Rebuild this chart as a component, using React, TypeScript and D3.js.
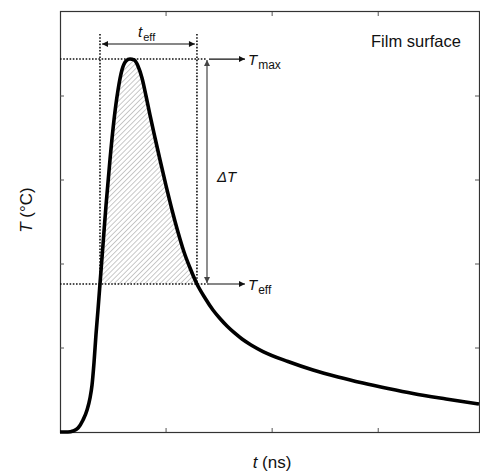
import * as React from 'react';
import { useEffect, useRef } from 'react';
import * as d3 from 'd3';

// surface temperature pulse (arbitrary units)
const timeNs = [
  0, 0.075, 0.123, 0.17, 0.217, 0.255, 0.283, 0.302, 0.321, 0.339, 0.358, 0.377,
  0.405, 0.434, 0.471, 0.509, 0.547, 0.584, 0.622, 0.66, 0.698, 0.735, 0.773,
  0.811, 0.848, 0.896, 0.943, 1.0, 1.056, 1.112, 1.169, 1.226, 1.291, 1.367,
  1.442, 1.508, 1.574, 1.64, 1.716, 1.801, 1.914, 2.149, 2.385, 2.621, 2.856,
  3.092, 3.328, 3.639, 3.95
];
const tempC = [
  0, 0, 0.012, 0.048, 0.143, 0.262, 0.405, 0.56, 0.833, 1.155, 1.452, 1.762,
  2.226, 2.702, 3.238, 3.714, 4.071, 4.31, 4.417, 4.44, 4.429, 4.357, 4.214,
  4.0, 3.774, 3.5, 3.238, 2.929, 2.643, 2.381, 2.143, 1.952, 1.762, 1.595,
  1.452, 1.351, 1.262, 1.185, 1.107, 1.036, 0.958, 0.839, 0.738, 0.655, 0.583,
  0.518, 0.458, 0.393, 0.333
];

const T_MAX = 4.44;
const T_EFF = 1.762;
const T_EFF_START = 0.377;
const T_EFF_END = 1.291;

const xTicks = [1, 2, 3];
const yTicks = [1, 2, 3, 4];

const FONT = '"Liberation Sans", Arial, Helvetica, sans-serif';

export default function App() {
  const ref = useRef<SVGSVGElement>(null);

  useEffect(() => {
    const svg = d3.select(ref.current);
    svg.selectAll('*').remove();

    const left = 60, right = 479, top = 12, bottom = 432;
    const data = timeNs.map((t, i) => ({ t, T: tempC[i] }));

    const x = d3.scaleLinear().domain([0, 3.95]).range([left, right]);
    const y = d3.scaleLinear().domain([0, 5]).range([bottom, top]);

    const defs = svg.append('defs');

    // hatch for the area above T_eff
    defs.append('pattern')
      .attr('id', 'hatch')
      .attr('patternUnits', 'userSpaceOnUse')
      .attr('width', 3.6)
      .attr('height', 3.6)
      .attr('patternTransform', 'rotate(45)')
      .append('line')
      .attr('x1', 0).attr('y1', 0)
      .attr('x2', 0).attr('y2', 3.6)
      .attr('stroke', '#777')
      .attr('stroke-width', 0.8);

    defs.append('clipPath')
      .attr('id', 'aboveEff')
      .append('rect')
      .attr('x', x(T_EFF_START))
      .attr('y', top)
      .attr('width', x(T_EFF_END) - x(T_EFF_START))
      .attr('height', y(T_EFF) - top);

    const addMarker = (id: string, color: string, orient: string) => {
      defs.append('marker')
        .attr('id', id)
        .attr('viewBox', '0 0 10 10')
        .attr('refX', 10)
        .attr('refY', 5)
        .attr('markerUnits', 'userSpaceOnUse')
        .attr('markerWidth', 9)
        .attr('markerHeight', 6)
        .attr('orient', orient)
        .append('path')
        .attr('d', 'M0,0 L10,5 L0,10 Z')
        .attr('fill', color);
    };
    addMarker('arrowEnd', '#111', 'auto');
    addMarker('arrowStart', '#111', 'auto-start-reverse');
    addMarker('arrowEndG', '#444', 'auto');
    addMarker('arrowStartG', '#444', 'auto-start-reverse');

    // hatched area
    const area = d3.area<{ t: number; T: number }>()
      .x(d => x(d.t))
      .y0(y(T_EFF))
      .y1(d => y(d.T))
      .curve(d3.curveMonotoneX);

    svg.append('path')
      .datum(data)
      .attr('d', area)
      .attr('fill', 'url(#hatch)')
      .attr('clip-path', 'url(#aboveEff)');

    // frame
    svg.append('rect')
      .attr('x', left + 0.5)
      .attr('y', top - 0.5)
      .attr('width', right - left)
      .attr('height', bottom - top + 1)
      .attr('fill', 'none')
      .attr('stroke', '#333')
      .attr('stroke-width', 1.2);

    // inward ticks on all sides
    const ticks = svg.append('g').attr('stroke', '#555').attr('stroke-width', 1);
    xTicks.forEach(v => {
      ticks.append('line').attr('x1', x(v)).attr('x2', x(v)).attr('y1', bottom).attr('y2', bottom - 4);
      ticks.append('line').attr('x1', x(v)).attr('x2', x(v)).attr('y1', top).attr('y2', top + 4);
    });
    yTicks.forEach(v => {
      ticks.append('line').attr('x1', left).attr('x2', left + 4).attr('y1', y(v)).attr('y2', y(v));
      ticks.append('line').attr('x1', right).attr('x2', right - 4).attr('y1', y(v)).attr('y2', y(v));
    });

    // dotted guides
    const dotted = svg.append('g')
      .attr('stroke', '#111')
      .attr('stroke-width', 1.6)
      .attr('stroke-dasharray', '1.6,1.6');
    dotted.append('line').attr('x1', x(T_EFF_START)).attr('x2', x(T_EFF_START)).attr('y1', 34).attr('y2', y(T_EFF));
    dotted.append('line').attr('x1', x(T_EFF_END)).attr('x2', x(T_EFF_END)).attr('y1', 34).attr('y2', y(T_EFF));
    dotted.append('line').attr('x1', left).attr('x2', 206).attr('y1', y(T_MAX)).attr('y2', y(T_MAX));
    dotted.append('line').attr('x1', left).attr('x2', 209).attr('y1', y(T_EFF)).attr('y2', y(T_EFF));

    // curve
    const line = d3.line<{ t: number; T: number }>()
      .x(d => x(d.t))
      .y(d => y(d.T))
      .curve(d3.curveMonotoneX);

    svg.append('path')
      .datum(data)
      .attr('d', line)
      .attr('fill', 'none')
      .attr('stroke', '#000')
      .attr('stroke-width', 3.6)
      .attr('stroke-linejoin', 'round');

    // arrows
    svg.append('line')
      .attr('x1', x(T_EFF_START) + 2).attr('x2', x(T_EFF_END) - 2)
      .attr('y1', 44).attr('y2', 44)
      .attr('stroke', '#111').attr('stroke-width', 1.2)
      .attr('marker-start', 'url(#arrowStart)')
      .attr('marker-end', 'url(#arrowEnd)');

    svg.append('line')
      .attr('x1', 207).attr('x2', 207)
      .attr('y1', y(T_MAX) + 1).attr('y2', y(T_EFF) - 1)
      .attr('stroke', '#444').attr('stroke-width', 1.2)
      .attr('marker-start', 'url(#arrowStartG)')
      .attr('marker-end', 'url(#arrowEndG)');

    [T_MAX, T_EFF].forEach(v => {
      svg.append('line')
        .attr('x1', 209).attr('x2', 245)
        .attr('y1', y(v)).attr('y2', y(v))
        .attr('stroke', '#111').attr('stroke-width', 1.2)
        .attr('marker-end', 'url(#arrowEnd)');
    });

    // labels
    const text = svg.append('g')
      .attr('font-family', FONT)
      .attr('fill', '#111');

    const subLabel = (xPos: number, yPos: number, main: string, sub: string, mainSize: number, subSize: number) => {
      const t = text.append('text').attr('x', xPos).attr('y', yPos).attr('font-size', mainSize);
      t.append('tspan').attr('font-style', 'italic').text(main);
      t.append('tspan').attr('font-size', subSize).attr('dy', 4).attr('dx', 1).text(sub);
    };
    subLabel(138, 37, 't', 'eff', 15, 11);
    subLabel(248, y(T_MAX) + 6, 'T', 'max', 15, 12);
    subLabel(248, y(T_EFF) + 6, 'T', 'eff', 15, 12);

    text.append('text')
      .attr('x', 217).attr('y', 182)
      .attr('font-size', 15)
      .attr('font-style', 'italic')
      .text('ΔT');

    text.append('text')
      .attr('x', 371).attr('y', 47)
      .attr('font-size', 16.5)
      .text('Film surface');

    const xl = text.append('text')
      .attr('x', 272).attr('y', 468)
      .attr('font-size', 17)
      .attr('text-anchor', 'middle');
    xl.append('tspan').attr('font-style', 'italic').text('t');
    xl.append('tspan').text(' (ns)');

    const yl = text.append('text')
      .attr('transform', 'translate(32,210) rotate(-90)')
      .attr('font-size', 17)
      .attr('text-anchor', 'middle');
    yl.append('tspan').attr('font-style', 'italic').text('T');
    yl.append('tspan').text(' (°C)');
  }, []);

  return (
    <svg
      ref={ref}
      width={480}
      height={471}
      style={{ position: 'absolute', left: 0, top: 0, background: '#fff' }}
    />
  );
}
